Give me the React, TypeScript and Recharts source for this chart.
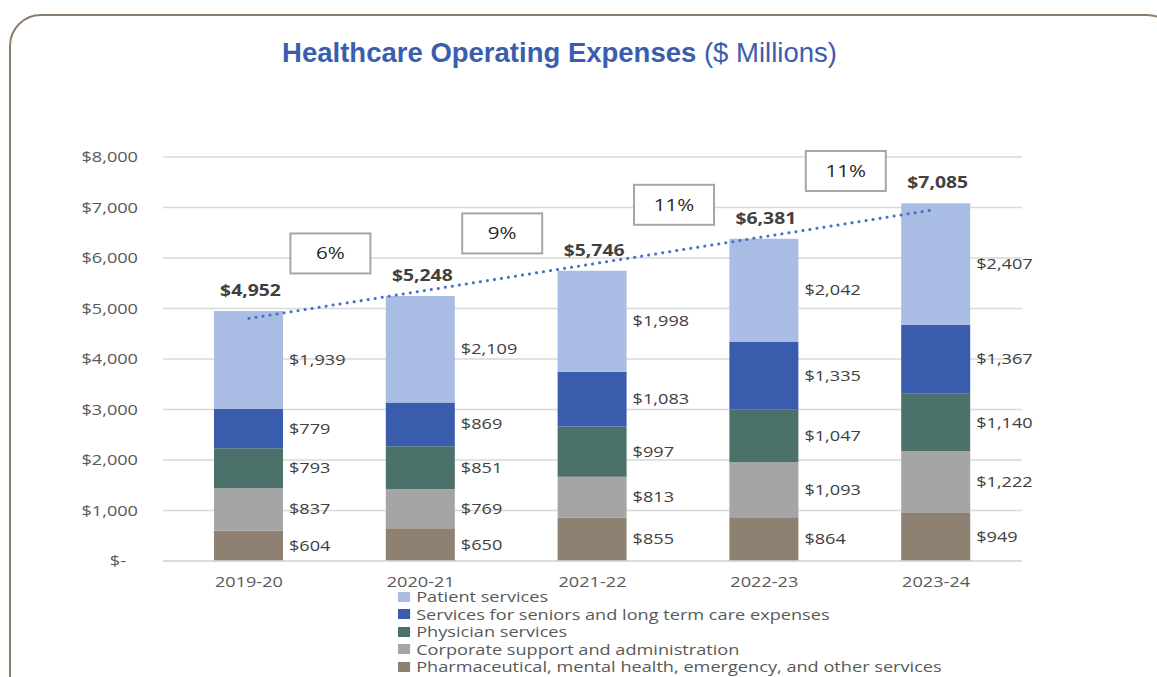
import React from 'react';
import {
  ComposedChart,
  Bar,
  Line,
  XAxis,
  YAxis,
  CartesianGrid,
  LabelList,
  Legend,
} from 'recharts';

const categories = ['2019-20', '2020-21', '2021-22', '2022-23', '2023-24'];
const patientServices = [1939, 2109, 1998, 2042, 2407];
const seniorsCare = [779, 869, 1083, 1335, 1367];
const physicianServices = [793, 851, 997, 1047, 1140];
const corporateSupport = [837, 769, 813, 1093, 1222];
const pharmaOther = [604, 650, 855, 864, 949];
const totals = [4952, 5248, 5746, 6381, 7085];
const growthLabels = ['', '6%', '9%', '11%', '11%'];
const trendValues: (number | null)[] = [4803, null, null, null, 6962];
const yTicks = [0, 1000, 2000, 3000, 4000, 5000, 6000, 7000, 8000];

const seriesDefs = [
  { key: 'pharma', name: 'Pharmaceutical, mental health, emergency, and other services', color: '#8E8171' },
  { key: 'corporate', name: 'Corporate support and administration', color: '#A5A5A5' },
  { key: 'physician', name: 'Physician services', color: '#4C716A' },
  { key: 'seniors', name: 'Services for seniors and long term care expenses', color: '#3A5CAD' },
  { key: 'patient', name: 'Patient services', color: '#A9BCE4' },
];

const data = categories.map((c, i) => ({
  category: c,
  pharma: pharmaOther[i],
  corporate: corporateSupport[i],
  physician: physicianServices[i],
  seniors: seniorsCare[i],
  patient: patientServices[i],
  total: totals[i],
  trend: trendValues[i],
}));

const W = 1157;
const H = 677;
const M = { top: 157, right: 135, bottom: 86, left: 83 };
const Y_AXIS_W = 80;
const HALF_BAND = (W - M.left - M.right - Y_AXIS_W) / categories.length / 2;
const FONT = '"Open Sans", sans-serif';
const TEXT = '#404040';
const AXIS_TEXT = '#595959';
const SX = 1.21;

const money = (v: number) => '$' + Number(v).toLocaleString('en-US');

const SText = (p: {
  x: number;
  y: number;
  anchor?: 'start' | 'middle' | 'end';
  size?: number;
  weight?: string;
  fill?: string;
  children: React.ReactNode;
}) => (
  <text
    transform={`translate(${p.x},${p.y}) scale(${SX},1)`}
    x={0}
    y={0}
    textAnchor={p.anchor || 'start'}
    fontSize={p.size || 15}
    fontWeight={p.weight || 'normal'}
    fontFamily={FONT}
    fill={p.fill || TEXT}
  >
    {p.children}
  </text>
);

const YTick = (props: any) => {
  const { x, y, payload } = props;
  const v = payload.value;
  return (
    <SText x={v === 0 ? x - 12 : x} y={y + 5} anchor="end" fill={AXIS_TEXT}>
      {v === 0 ? '$-' : money(v)}
    </SText>
  );
};

const XTick = (props: any) => {
  const { x, y, payload } = props;
  return (
    <SText x={x} y={y + 26} anchor="middle" fill={AXIS_TEXT}>
      {payload.value}
    </SText>
  );
};

const SegmentLabel = (props: any) => {
  const { x, y, width, height, value } = props;
  return (
    <SText x={x + width + 6} y={y + height / 2 + 5} anchor="start">
      {money(value)}
    </SText>
  );
};

const TotalLabel = (props: any) => {
  const { x, y, width, height, index } = props;
  const i = typeof index === 'number' ? index : 0;
  const cx = x + width / 2;
  const elems: React.ReactNode[] = [
    <SText key="t" x={cx + 2} y={y - 15} anchor="middle" size={16} weight="bold">
      {money(totals[i])}
    </SText>,
  ];
  if (i > 0 && growthLabels[i]) {
    const pxPer = height / patientServices[i];
    const yPrev = y + (totals[i] - totals[i - 1]) * pxPer;
    const midY = (y + yPrev) / 2;
    const by = midY - 50;
    const bx = cx - HALF_BAND - 4;
    elems.push(
      <g key="g">
        <rect x={bx - 40} y={by - 20} width={80} height={40} fill="#fff" stroke="#A6A6A6" strokeWidth={2} />
        <SText x={bx} y={by + 6} anchor="middle" size={17} fill="#262626">
          {growthLabels[i]}
        </SText>
      </g>
    );
  }
  return <g>{elems}</g>;
};

const LegendContent = () => (
  <div
    style={{
      fontFamily: FONT,
      fontSize: 15,
      color: AXIS_TEXT,
      lineHeight: '17.5px',
      transform: `scaleX(${SX})`,
      transformOrigin: '0 0',
    }}
  >
    {[...seriesDefs].reverse().map((s) => (
      <div key={s.key} style={{ display: 'flex', alignItems: 'center', whiteSpace: 'nowrap', height: 17.5 }}>
        <span style={{ display: 'inline-block', width: 10, height: 10, background: s.color, marginRight: 5 }} />
        <span>{s.name}</span>
      </div>
    ))}
  </div>
);

export default function App() {
  return (
    <div style={{ position: 'absolute', left: 0, top: 0, width: W, height: H, overflow: 'hidden', background: '#fff' }}>
      <div
        style={{
          position: 'absolute',
          left: 9,
          top: 14,
          width: 1170,
          height: 720,
          border: '2px solid #8C7D6E',
          borderRadius: 32,
          boxSizing: 'border-box',
        }}
      />
      <div
        style={{
          position: 'absolute',
          left: 0,
          top: 38,
          width: 1119,
          textAlign: 'center',
          fontFamily: '"Liberation Sans", Arial, sans-serif',
          fontSize: 27.5,
          lineHeight: '30px',
          color: '#3B5DAD',
          whiteSpace: 'nowrap',
        }}
      >
        <span style={{ fontWeight: 'bold' }}>Healthcare Operating Expenses</span> ($ Millions)
      </div>
      <div style={{ position: 'absolute', left: 0, top: 0 }}>
        <ComposedChart width={W} height={H} data={data} margin={M}>
          <CartesianGrid vertical={false} stroke="#D9D9D9" strokeWidth={1.5} />
          <XAxis
            dataKey="category"
            axisLine={{ stroke: '#D9D9D9', strokeWidth: 1.5 }}
            tickLine={false}
            tickSize={0}
            tickMargin={0}
            height={30}
            tick={<XTick />}
          />
          <YAxis
            width={Y_AXIS_W}
            domain={[0, 8000]}
            ticks={yTicks}
            axisLine={false}
            tickLine={false}
            tickSize={0}
            tickMargin={25}
            tick={<YTick />}
          />
          {seriesDefs.map((s) => (
            <Bar
              key={s.key}
              dataKey={s.key}
              name={s.name}
              stackId="a"
              fill={s.color}
              barSize={69}
              isAnimationActive={false}
            >
              <LabelList dataKey={s.key} content={<SegmentLabel />} />
              {s.key === 'patient' ? <LabelList dataKey="total" content={<TotalLabel />} /> : null}
            </Bar>
          ))}
          <Line
            dataKey="trend"
            connectNulls
            stroke="#4472C4"
            strokeWidth={3}
            strokeDasharray="0.1 7"
            strokeLinecap="round"
            dot={false}
            activeDot={false}
            legendType="none"
            isAnimationActive={false}
          />
          <Legend
            layout="vertical"
            align="center"
            verticalAlign="middle"
            content={<LegendContent />}
            wrapperStyle={{ left: 398, top: 588, width: 640, height: 89 }}
          />
        </ComposedChart>
      </div>
    </div>
  );
}
